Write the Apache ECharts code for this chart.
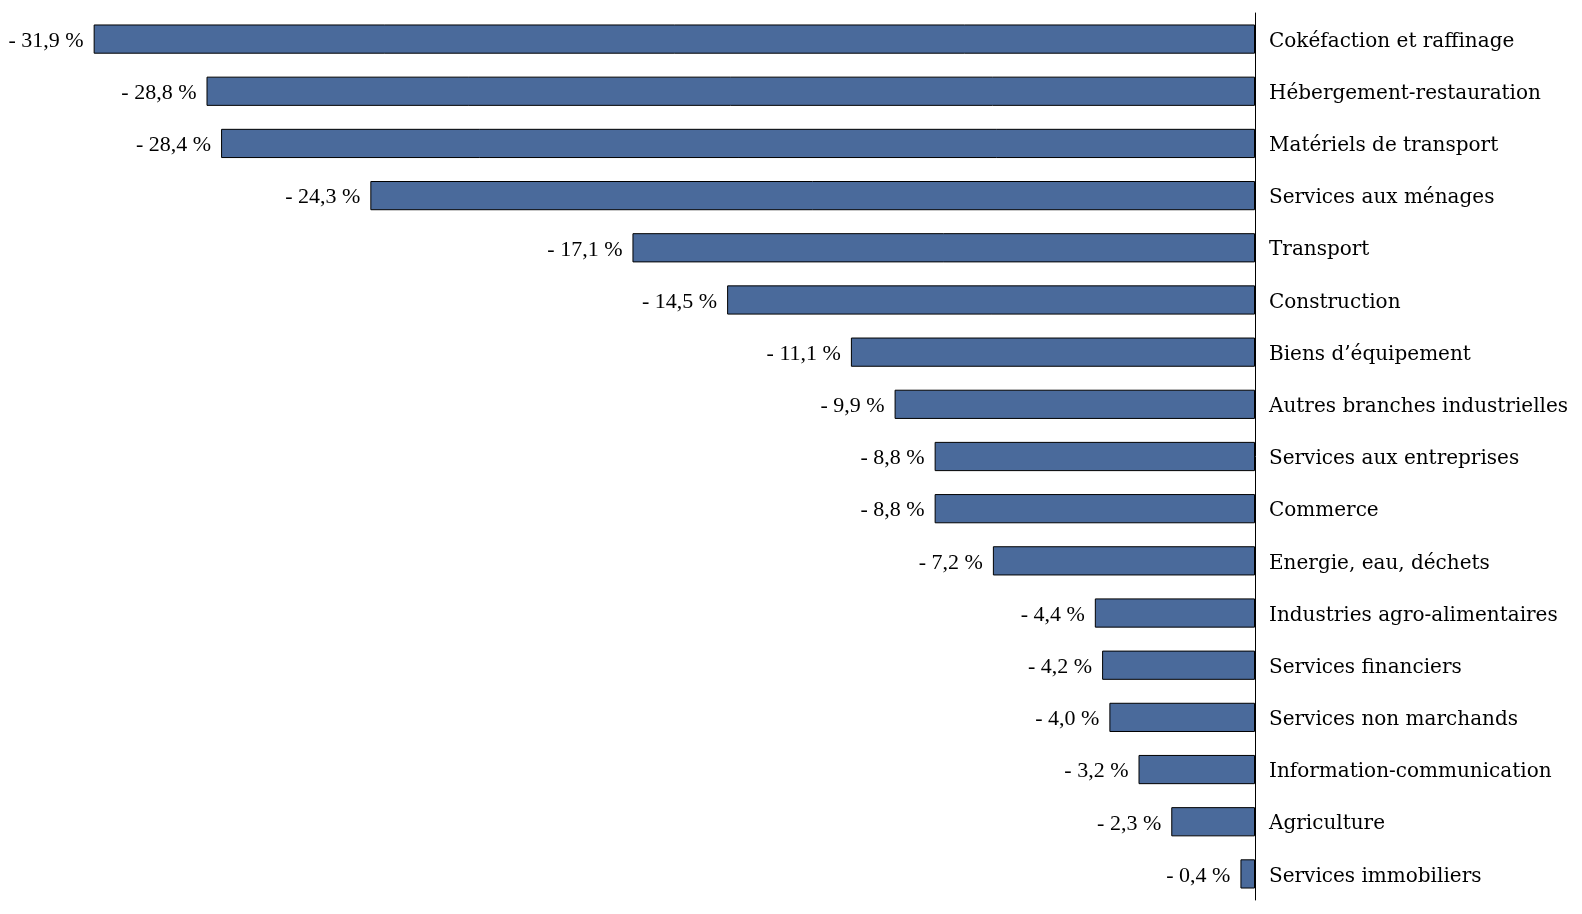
<!DOCTYPE html>
<html><head><meta charset="utf-8">
<script src="https://cdn.jsdelivr.net/npm/echarts@6/dist/echarts.min.js"></script>
<style>html,body{margin:0;padding:0;background:#fff}#c{width:1582px;height:914px}</style>
</head><body><div id="c"></div>
<script>
const categories = ["Cokéfaction et raffinage","Hébergement-restauration","Matériels de transport","Services aux ménages","Transport","Construction","Biens d’équipement","Autres branches industrielles","Services aux entreprises","Commerce","Energie, eau, déchets","Industries agro-alimentaires","Services financiers","Services non marchands","Information-communication","Agriculture","Services immobiliers"];
const values = [-31.9,-28.8,-28.4,-24.3,-17.1,-14.5,-11.1,-9.9,-8.8,-8.8,-7.2,-4.4,-4.2,-4.0,-3.2,-2.3,-0.4];
const font = "'Liberation Serif', 'DejaVu Serif', serif";
const catFont = "'DejaVu Serif', serif";
const chart = echarts.init(document.getElementById('c'));
chart.setOption({
  animation:false,
  grid:{left:90,right:327,top:13,bottom:14,containLabel:false},
  xAxis:{type:'value',min:-32,max:0,show:false},
  yAxis:{type:'category',data:categories,inverse:true,position:'right',
    axisLine:{show:true,lineStyle:{color:'#000',width:1}},
    axisTick:{show:false},
    axisLabel:{color:'#000',fontFamily:catFont,fontSize:20,margin:14,align:'left',
      formatter:v=>'{a|'+v+'}',
      rich:{a:{fontFamily:catFont,fontSize:20,color:'#000',padding:[5,0,0,0]}}}
  },
  series:[{type:'bar',data:values,barCategoryGap:'44%',
    itemStyle:{color:'#4A6A9B',borderColor:'#000',borderWidth:1},
    label:{show:true,position:'left',distance:10,color:'#000',fontFamily:font,fontSize:22,offset:[0,2],
      formatter:p=>'- '+Math.abs(p.value).toFixed(1).replace('.',',')+' %'}
  }]
});
</script></body></html>
